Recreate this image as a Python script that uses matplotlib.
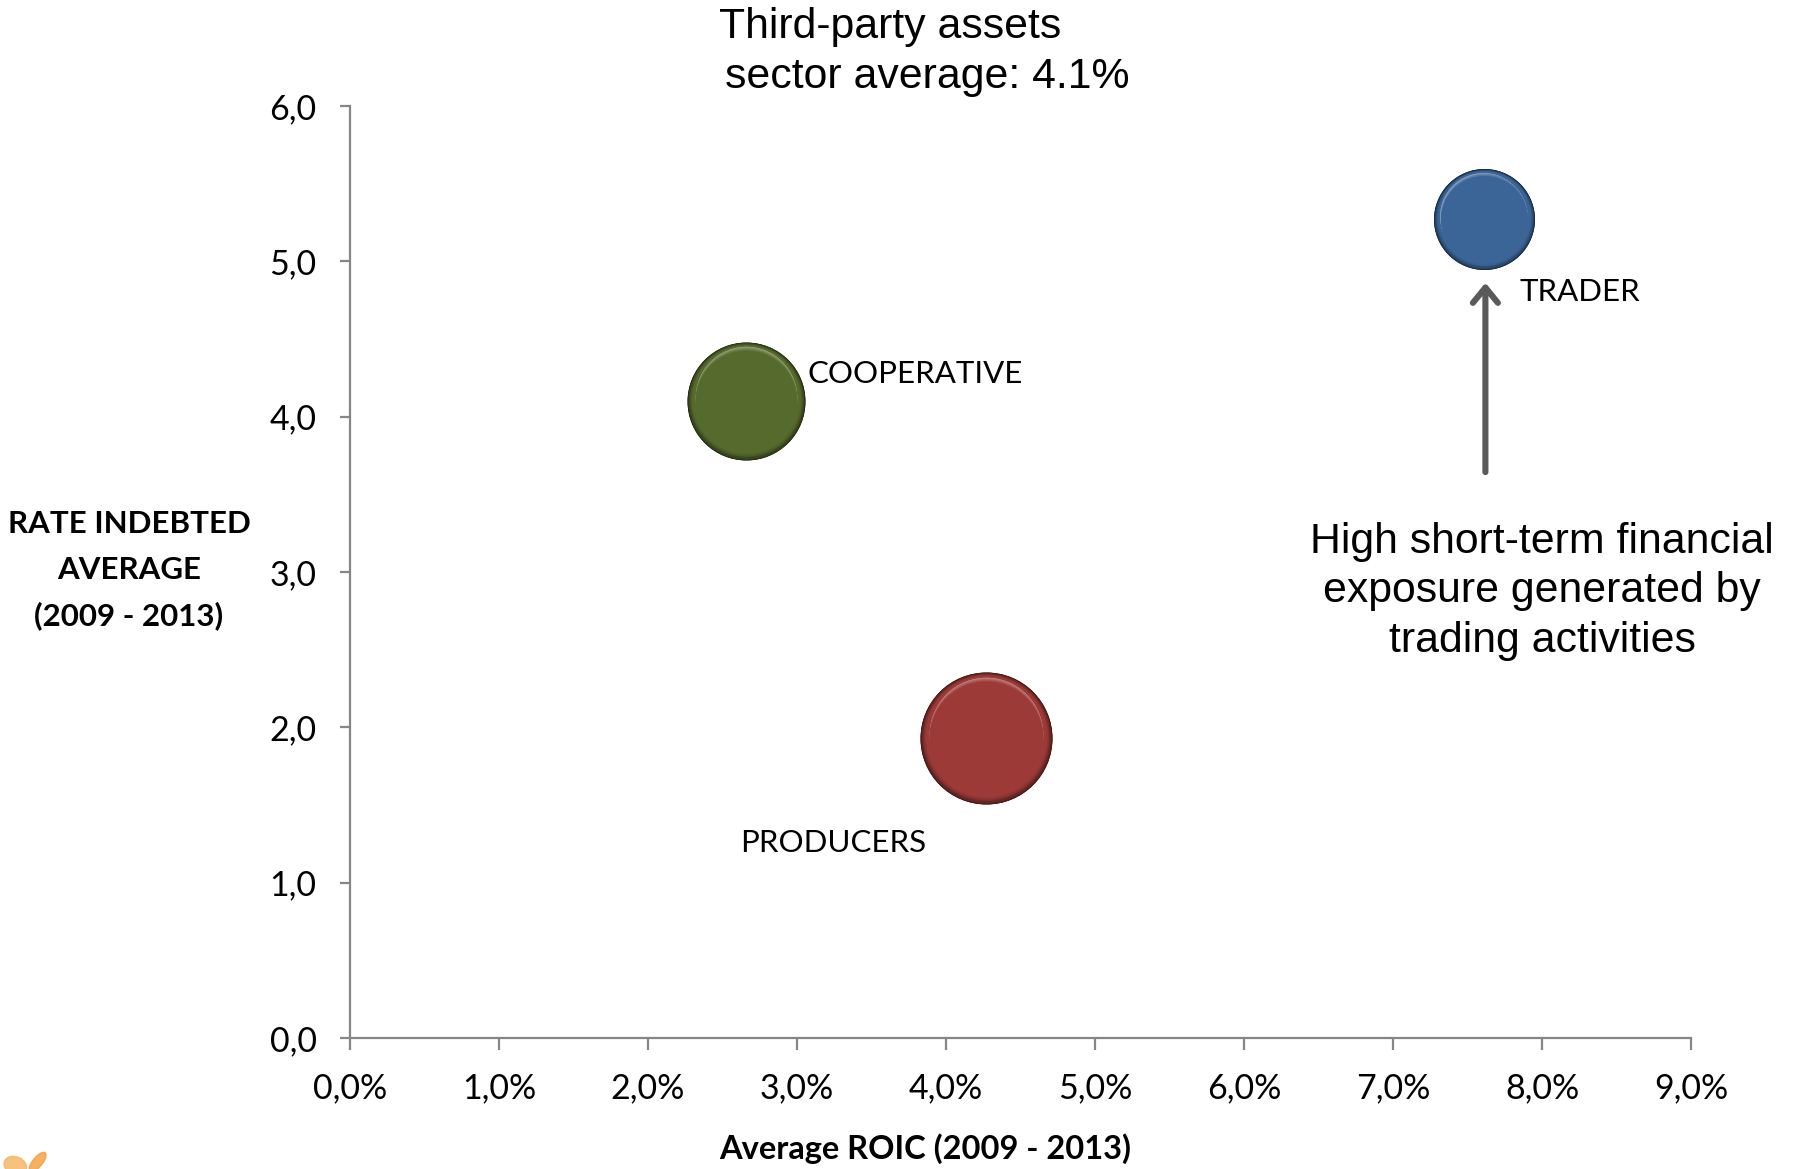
import numpy as np
import matplotlib
matplotlib.use("Agg")
import matplotlib.pyplot as plt
from matplotlib.transforms import offset_copy
from matplotlib.colors import to_rgb
from matplotlib.ticker import FuncFormatter
from matplotlib.patches import FancyArrowPatch, Ellipse

# ---- data ----
groups = ["COOPERATIVE", "PRODUCERS", "TRADER"]
roic = [2.66, 4.27, 7.61]            # average ROIC 2009-2013, %
indebted = [4.10, 1.93, 5.27]        # average indebtedness rate 2009-2013
bubble_value = [3.48, 4.36, 2.55]    # bubble area (relative)
x_ticks = [0, 1, 2, 3, 4, 5, 6, 7, 8, 9]
y_ticks = [0, 1, 2, 3, 4, 5, 6]

# ---- styles ----
colors = {"COOPERATIVE": "#566a2d", "PRODUCERS": "#9c3a37", "TRADER": "#3b6597"}
calibri_like = ["Lato", "DejaVu Sans"]
arial_like = ["Liberation Sans", "DejaVu Sans"]
axis_gray = "#868686"
DPI = 100

fig = plt.figure(figsize=(17.94, 11.69), dpi=DPI)
ax = fig.add_axes([0.1951, 0.1121, 0.9426 - 0.1951, 0.9093 - 0.1121])
ax.set_xlim(0, 9)
ax.set_ylim(0, 6)


def blend(c1, c2, t):
    a, b = np.array(to_rgb(c1)), np.array(to_rgb(c2))
    return tuple(a + (b - a) * t)


def circle(x, y, r_px, color, dy=0.0, dx=0.0, z=3):
    tr = offset_copy(ax.transData, fig=fig, x=dx, y=dy, units="dots")
    s = (2 * r_px * 72.0 / DPI) ** 2
    ax.scatter([x], [y], s=s, color=[color], linewidths=0, transform=tr,
               zorder=z, clip_on=False)


# glossy bubbles built from stacked discs
scale_px = 31.6
for g, x, y, v in zip(groups, roic, indebted, bubble_value):
    base = colors[g]
    R = scale_px * np.sqrt(v)
    dark = blend(base, "#000000", 0.6)
    light = blend(base, "#ffffff", 0.4)
    circle(x, y, R, dark, z=3)
    n = 12
    for i, t in enumerate(np.linspace(0, 1, n)):
        circle(x, y, R * (1 - 0.08 * t), blend(dark, base, t ** 0.7),
               dy=2.0 * t, z=3.1 + i * 0.01)
    # highlight crescent near the top, fading downwards
    m = 10
    for i, t in enumerate(np.linspace(0, 1, m)):
        circle(x, y, R * 0.86, blend(light, base, t ** 0.8),
               dy=R * 0.07 * (1 - t), dx=-R * 0.01 * (1 - t), z=3.4 + i * 0.01)

# ---- axes styling ----
for side in ("top", "right"):
    ax.spines[side].set_visible(False)
for side in ("left", "bottom"):
    ax.spines[side].set_color(axis_gray)
    ax.spines[side].set_linewidth(1.6)
ax.set_xticks(x_ticks)
ax.set_yticks(y_ticks)
ax.xaxis.set_major_formatter(FuncFormatter(lambda v, p: f"{v:.1f}%".replace(".", ",")))
ax.yaxis.set_major_formatter(FuncFormatter(lambda v, p: f"{v:.1f}".replace(".", ",")))
ax.tick_params(axis="x", direction="out", length=8.5, width=1.6, color=axis_gray,
               pad=16, labelsize=24.5, labelcolor="black")
ax.tick_params(axis="y", direction="out", length=7, width=1.6, color=axis_gray,
               pad=17, labelsize=24.5, labelcolor="black")
for lab in ax.get_xticklabels() + ax.get_yticklabels():
    lab.set_family(calibri_like)

# ---- bubble labels ----
label_pos = {"COOPERATIVE": (3.07, 4.275), "PRODUCERS": (2.62, 1.255), "TRADER": (7.85, 4.80)}
for g in groups:
    lx, ly = label_pos[g]
    ax.text(lx, ly, g, family=calibri_like, fontsize=22.5, ha="left", va="center",
            color="black", zorder=5)

# ---- arrow and note ----
arrow = FancyArrowPatch((7.62, 3.625), (7.62, 4.88),
                        arrowstyle="->,head_length=0.55,head_width=0.45",
                        mutation_scale=20, color="#5a5a5a", lw=4.4,
                        capstyle="round", joinstyle="round", zorder=4)
ax.add_patch(arrow)
ax.text(8.0, 2.875, "High short-term financial\nexposure generated by\ntrading activities",
        family=arial_like, fontsize=30.8, ha="center", va="center", color="black",
        linespacing=1.3, clip_on=False)

# ---- titles and axis labels ----
fig.text(0.496, 0.977, "Third-party assets", family=arial_like, fontsize=30.8,
         ha="center", va="center")
fig.text(0.517, 0.934, "sector average: 4.1%", family=arial_like, fontsize=30.8,
         ha="center", va="center")
fig.text(0.0719, 0.512, "RATE INDEBTED\nAVERAGE\n(2009 - 2013)", family=calibri_like,
         fontsize=22.5, fontweight="bold", ha="center", va="center", linespacing=1.75)
fig.text(0.5156, 0.0171, "Average ROIC (2009 - 2013)", family=calibri_like,
         fontsize=23.5, fontweight="bold", ha="center", va="center")

# small orange logo mark in the lower-left corner
fig.patches.append(Ellipse((0.0085, 0.003), 0.012, 0.016, angle=20,
                           transform=fig.transFigure, color="#f6b25e", alpha=0.8))
fig.patches.append(Ellipse((0.021, 0.006), 0.006, 0.018, angle=-25,
                           transform=fig.transFigure, color="#f39c3a", alpha=0.8))

fig.savefig("out.png", dpi=DPI)
